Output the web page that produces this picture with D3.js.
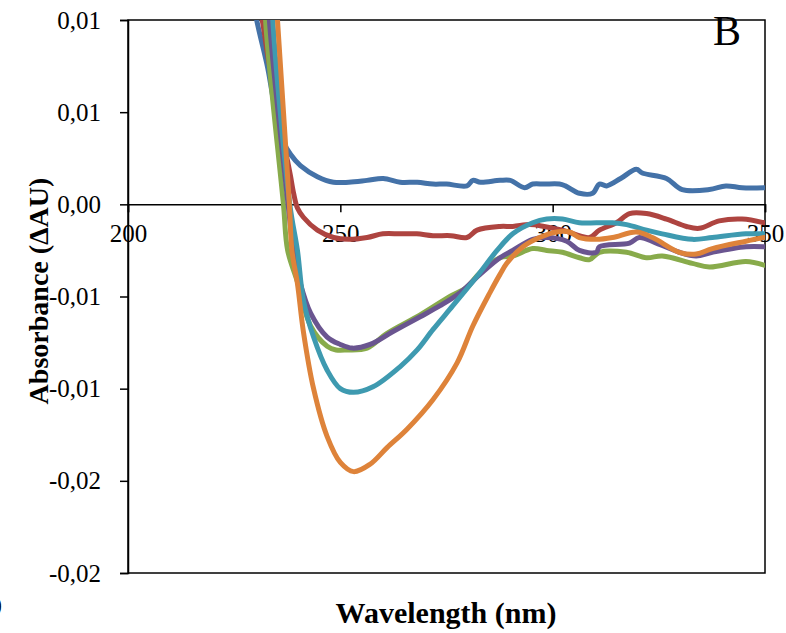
<!DOCTYPE html>
<html>
<head>
<meta charset="utf-8">
<script src="https://cdn.jsdelivr.net/npm/d3@7"></script>
<style>
  body { margin: 0; background: #fff; }
  text { font-family: "Liberation Serif", "Times New Roman", serif; fill: #000; }
</style>
</head>
<body>
<div id="chart"></div>
<script>
// wavelength (nm), delta absorbance (AU) per trace
const blue = [
  [228.7, 0.0122], [230.3, 0.0100], [232.9, 0.0074], [234.3, 0.0056], [235.5, 0.0045],
  [236.6, 0.0034], [238.3, 0.0027], [240.6, 0.0021], [244.6, 0.0015], [248.4, 0.0012],
  [252.0, 0.0012], [256.3, 0.0013], [260.1, 0.0014], [264.1, 0.0012], [268.1, 0.0012],
  [271.8, 0.0011], [275.0, 0.0011], [279.8, 0.0010], [281.2, 0.0013], [283.0, 0.0012],
  [287.6, 0.0013], [290.0, 0.0013], [293.4, 0.0009], [295.3, 0.0011], [298.0, 0.0011],
  [301.6, 0.0011], [303.0, 0.0010], [306.3, 0.0006], [309.4, 0.0006], [311.0, 0.0011],
  [312.7, 0.0010], [316.0, 0.0014], [319.7, 0.0019], [321.1, 0.0017], [326.8, 0.0014],
  [330.5, 0.0008], [336.9, 0.0008], [340.8, 0.0010], [344.6, 0.0009], [349.8, 0.0009]
]
const red = [
  [229.6, 0.0122], [231.6, 0.0100], [233.1, 0.0078], [235.0, 0.0056], [236.6, 0.0034],
  [237.8, 0.0021], [238.3, 0.0015], [239.0, 0.0006], [239.9, -0.0002], [241.3, -0.0007],
  [244.6, -0.0014], [248.4, -0.0018], [252.0, -0.0019], [256.3, -0.0018], [260.0, -0.0016],
  [264.1, -0.0016], [268.0, -0.0016], [271.8, -0.0017], [276.0, -0.0017], [279.8, -0.0018],
  [282.2, -0.0014], [287.6, -0.0012], [290.6, -0.0012], [294.6, -0.0011], [298.0, -0.0012],
  [302.3, -0.0014], [308.7, -0.0018], [311.0, -0.0014], [315.0, -0.0010], [318.1, -0.0005],
  [322.1, -0.0005], [326.8, -0.0008], [331.5, -0.0012], [334.5, -0.0013], [339.2, -0.0009],
  [344.6, -0.0008], [349.8, -0.0010]
]
const green = [
  [232.3, 0.0122], [232.4, 0.0100], [236.6, 0.0000], [237.6, -0.0025], [239.9, -0.0042],
  [243.0, -0.0066], [246.9, -0.0077], [249.0, -0.0079], [251.6, -0.0079], [256.3, -0.0078],
  [261.0, -0.0070], [268.8, -0.0060], [275.8, -0.0050], [279.8, -0.0045], [282.9, -0.0037],
  [287.6, -0.0029], [290.6, -0.0028], [295.3, -0.0024], [298.6, -0.0025], [302.3, -0.0026],
  [306.3, -0.0029], [308.7, -0.0030], [311.0, -0.0026], [317.4, -0.0026], [322.1, -0.0029],
  [325.8, -0.0028], [332.9, -0.0032], [336.9, -0.0034], [345.5, -0.0031], [349.8, -0.0033]
]
const purple = [
  [233.0, 0.0122], [233.3, 0.0100], [237.7, 0.0000], [239.0, -0.0025], [240.6, -0.0043],
  [243.0, -0.0059], [246.9, -0.0072], [250.0, -0.0076], [252.8, -0.0078], [257.0, -0.0076],
  [262.4, -0.0069], [268.8, -0.0061], [273.5, -0.0055], [278.2, -0.0048], [282.9, -0.0038],
  [287.6, -0.0029], [290.6, -0.0025], [295.3, -0.0019], [298.6, -0.0018], [303.3, -0.0020],
  [306.3, -0.0025], [310.3, -0.0026], [311.0, -0.0023], [318.1, -0.0021], [320.4, -0.0018],
  [324.4, -0.0021], [329.8, -0.0026], [333.8, -0.0028], [337.6, -0.0026], [345.5, -0.0023],
  [349.8, -0.0023]
]
const teal = [
  [233.9, 0.0122], [234.1, 0.0100], [238.1, 0.0000], [239.9, -0.0025], [241.3, -0.0052],
  [243.7, -0.0072], [246.9, -0.0090], [250.0, -0.0100], [253.1, -0.0102], [257.7, -0.0099],
  [264.1, -0.0088], [268.1, -0.0079], [271.8, -0.0068], [276.5, -0.0055], [282.2, -0.0039],
  [286.9, -0.0025], [290.6, -0.0016], [295.3, -0.0010], [298.6, -0.0008], [302.3, -0.0008],
  [306.3, -0.0010], [310.3, -0.0010], [314.1, -0.0010], [317.4, -0.0011], [322.1, -0.0014],
  [325.8, -0.0016], [332.9, -0.0019], [337.6, -0.0018], [345.5, -0.0016], [349.8, -0.0016]
]
const orange = [
  [234.6, 0.0122], [235.2, 0.0100], [238.0, 0.0000], [238.6, -0.0025], [239.9, -0.0043],
  [241.3, -0.0069], [243.7, -0.0100], [246.9, -0.0126], [250.0, -0.0140], [253.1, -0.0145],
  [257.0, -0.0141], [261.0, -0.0132], [265.7, -0.0122], [271.8, -0.0106], [277.5, -0.0086],
  [281.2, -0.0066], [285.2, -0.0048], [287.6, -0.0038], [289.2, -0.0032], [293.0, -0.0023],
  [296.9, -0.0018], [300.9, -0.0015], [304.0, -0.0015], [306.3, -0.0018], [310.3, -0.0019],
  [314.1, -0.0018], [319.7, -0.0015], [323.5, -0.0018], [329.8, -0.0026], [333.8, -0.0027],
  [337.6, -0.0024], [345.5, -0.0020], [349.8, -0.0018]
]

const seriesColors = ['#4472A8', '#AE4440', '#88AB4B', '#6A5590', '#3E9AB0', '#DE833A']
const xTicks = [200, 250, 300, 350]
const yTicks = [0.01, 0.005, 0, -0.005, -0.01, -0.015, -0.02]
const yTickLabels = ['0,01', '0,01', '0,00', '-0,01', '-0,01', '-0,02', '-0,02']

const width = 786, height = 633
const margin = { top: 20, right: 21, bottom: 60, left: 128 }
const innerW = width - margin.left - margin.right
const innerH = 573 - margin.top

const svg = d3.select('#chart').append('svg')
  .attr('width', width)
  .attr('height', height)

const x = d3.scaleLinear().domain([200, 350]).range([0, innerW])
const y = d3.scaleLinear().domain([-0.02, 0.01]).range([innerH, 0])

const g = svg.append('g')
  .attr('transform', `translate(${margin.left},${margin.top})`)

g.append('clipPath').attr('id', 'plot-clip')
  .append('rect').attr('width', innerW).attr('height', innerH)

// frame
g.append('rect')
  .attr('width', innerW).attr('height', innerH)
  .attr('fill', 'none').attr('stroke', '#000').attr('stroke-width', 1.5)

// y axis with outside ticks
const yAxis = g.append('g')
  .call(d3.axisLeft(y).tickValues(yTicks).tickSize(8).tickPadding(19)
    .tickFormat((d, i) => yTickLabels[i]))
yAxis.select('.domain').attr('stroke-width', 1.5)
yAxis.selectAll('.tick line').attr('stroke-width', 1.5)
yAxis.selectAll('text')
  .style('font-size', '25px').style('font-family', '"Liberation Serif", serif')

// x axis sits on zero
const xAxis = g.append('g')
  .attr('transform', `translate(0,${y(0)})`)
  .call(d3.axisBottom(x).tickValues(xTicks).tickSize(8).tickPadding(12))
xAxis.select('.domain').attr('stroke-width', 1.5)
xAxis.selectAll('.tick line').attr('stroke-width', 1.5)
xAxis.selectAll('text')
  .style('font-size', '25px').style('font-family', '"Liberation Serif", serif')

const line = d3.line()
  .x(d => x(d[0]))
  .y(d => y(d[1]))
  .curve(d3.curveCatmullRom.alpha(0.5))

g.append('g').attr('clip-path', 'url(#plot-clip)')
  .selectAll('path')
  .data([blue, red, green, purple, teal, orange])
  .join('path')
  .attr('d', line)
  .attr('fill', 'none')
  .attr('stroke', (d, i) => seriesColors[i])
  .attr('stroke-width', 5)
  .attr('stroke-linejoin', 'round')
  .attr('stroke-linecap', 'round')

// panel letter
svg.append('text')
  .attr('x', 727).attr('y', 45)
  .attr('text-anchor', 'middle')
  .style('font-size', '42px')
  .text('B')

svg.append('text')
  .attr('transform', 'translate(48,291) rotate(-90)')
  .attr('text-anchor', 'middle')
  .style('font-size', '28px').style('font-weight', 'bold')
  .text('Absorbance (ΔAU)')

svg.append('text')
  .attr('x', 446).attr('y', 623)
  .attr('text-anchor', 'middle')
  .style('font-size', '30px').style('font-weight', 'bold')
  .text('Wavelength (nm)')

// stray glyph cut by the left edge of the original image
svg.append('text')
  .attr('x', -6).attr('y', 612)
  .style('font-size', '24px').style('font-weight', 'bold')
  .text(')')
</script>
</body>
</html>
